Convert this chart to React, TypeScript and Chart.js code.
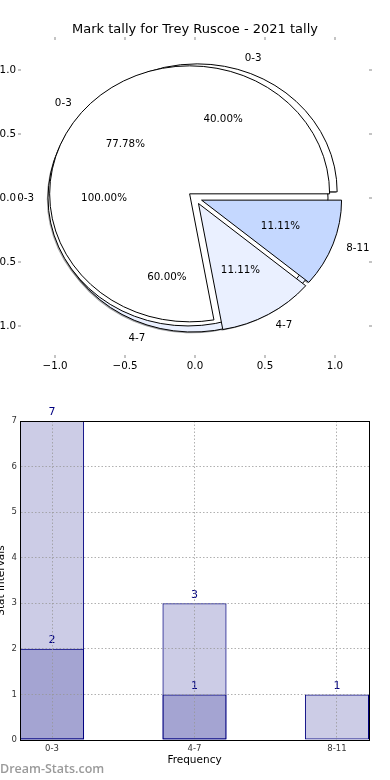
import React, { useEffect, useRef } from 'react';
import { Chart, registerables } from 'chart.js';
Chart.register(...registerables);

const FONT = "'DejaVu Sans'";

const pieTitle = 'Mark tally for Trey Ruscoe - 2021 tally';
const categories = ['0-3', '4-7', '8-11'];
const sliceColors = ['#ffffff', '#eaf0ff', '#c5d8ff'];

// three overlaid pies (drawn in this order: C, A, B)
const pieALabels = ['0-3'];
const pieAValues = [1];
const pieBLabels = ['0-3', '4-7', '8-11'];
const pieBValues = [7, 1, 1];
const pieCLabels = ['0-3', '4-7'];
const pieCValues = [2, 3];
const pieExplode = 0.05;
const pieTicks = [-1, -0.5, 0, 0.5, 1];

// bar chart
const barTotals = [7, 3, 1];
const barSubset = [2, 1, null];
const barYTicks = [0, 1, 2, 3, 4, 5, 6, 7];
const xTitle = 'Frequency';
const yTitle = 'Stat Intervals';
const watermark = 'Dream-Stats.com';

function shadowColor(hex: string) {
  const n = parseInt(hex.slice(1), 16);
  const r = Math.round(((n >> 16) & 255) * 0.3);
  const g = Math.round(((n >> 8) & 255) * 0.3);
  const b = Math.round((n & 255) * 0.3);
  return `rgba(${r},${g},${b},0.5)`;
}

const piePlugin = {
  id: 'overlaidPies',
  afterDatasetsDraw(chart: any) {
    const { ctx } = chart;
    const x = chart.scales.x;
    const y = chart.scales.y;
    const px = (v: number) => x.getPixelForValue(v);
    const py = (v: number) => y.getPixelForValue(v);
    const rx = px(1) - px(0);
    const ry = py(0) - py(1);
    const pies = [
      { labels: pieCLabels, values: pieCValues },
      { labels: pieALabels, values: pieAValues },
      { labels: pieBLabels, values: pieBValues },
    ];
    const wedges: any[] = [];
    pies.forEach((p) => {
      const total = p.values.reduce((a, b) => a + b, 0);
      let start = 0;
      p.values.forEach((v, i) => {
        const frac = v / total;
        const a1 = start * 2 * Math.PI;
        const a2 = (start + frac) * 2 * Math.PI;
        const mid = (a1 + a2) / 2;
        wedges.push({
          a1, a2, mid, frac,
          cx: pieExplode * Math.cos(mid),
          cy: pieExplode * Math.sin(mid),
          label: p.labels[i],
          color: sliceColors[categories.indexOf(p.labels[i])],
        });
        start += frac;
      });
    });
    const path = (w: any, dx: number, dy: number) => {
      const cx = px(w.cx) + dx;
      const cy = py(w.cy) + dy;
      ctx.beginPath();
      if (w.frac > 0.999999) {
        ctx.ellipse(cx, cy, rx, ry, 0, 0, 2 * Math.PI);
      } else {
        ctx.moveTo(cx, cy);
        ctx.ellipse(cx, cy, rx, ry, 0, -w.a1, -w.a2, true);
        ctx.closePath();
      }
    };
    ctx.save();
    wedges.forEach((w) => {
      path(w, -1.2, 1.2);
      ctx.fillStyle = shadowColor(w.color);
      ctx.fill();
    });
    wedges.forEach((w) => {
      path(w, 0, 0);
      ctx.fillStyle = w.color;
      ctx.fill();
      ctx.lineWidth = 1;
      ctx.strokeStyle = '#000';
      ctx.stroke();
    });
    ctx.font = `10.3px ${FONT}`;
    ctx.fillStyle = '#000';
    ctx.textBaseline = 'middle';
    wedges.forEach((w) => {
      const xt = w.cx + 1.1 * Math.cos(w.mid);
      const yt = w.cy + 1.1 * Math.sin(w.mid);
      ctx.textAlign = xt > 0 ? 'left' : 'right';
      ctx.fillText(w.label, px(xt), py(yt));
      const xp = w.cx + 0.6 * Math.cos(w.mid);
      const yp = w.cy + 0.6 * Math.sin(w.mid);
      ctx.textAlign = 'center';
      ctx.fillText((w.frac * 100).toFixed(2) + '%', px(xp), py(yp));
    });
    ctx.restore();
  },
};

const barLabelPlugin = {
  id: 'barLabels',
  afterDatasetsDraw(chart: any) {
    const { ctx } = chart;
    ctx.save();
    ctx.font = `11px ${FONT}`;
    ctx.fillStyle = '#000080';
    ctx.textAlign = 'center';
    ctx.textBaseline = 'bottom';
    chart.data.datasets.forEach((ds: any, di: number) => {
      const meta = chart.getDatasetMeta(di);
      meta.data.forEach((el: any, i: number) => {
        const v = ds.data[i].y;
        if (v == null) return;
        ctx.fillText(String(v), el.x, el.y - 3);
      });
    });
    ctx.restore();
  },
};

const fmtPie = (v: number) => (v < 0 ? '\u2212' : '') + Math.abs(v).toFixed(1);
const setPieTicks = (s: any) => {
  s.ticks = pieTicks.map((v) => ({ value: v }));
};
const pieGrid = {
  drawOnChartArea: false,
  drawTicks: true,
  tickLength: 3,
  color: '#c4c4c4',
  lineWidth: 2,
};
const pieTickFont = { family: FONT, size: 10.3 };

const XMIN = -1.243, XMAX = 1.243, YMIN = -1.227, YMAX = 1.234;

function pieConfig(): any {
  return {
    type: 'scatter',
    data: { datasets: [] },
    plugins: [piePlugin],
    options: {
      responsive: false,
      animation: false,
      layout: { padding: 0 },
      plugins: {
        legend: { display: false },
        tooltip: { enabled: false },
        title: {
          display: true,
          text: pieTitle,
          fullSize: false,
          color: '#000',
          font: { family: FONT, size: 13, weight: 'normal' },
          padding: { top: 22.2, bottom: 0 },
        },
      },
      scales: {
        x: {
          type: 'linear', position: 'bottom', min: XMIN, max: XMAX,
          afterBuildTicks: setPieTicks,
          ticks: { callback: fmtPie, font: pieTickFont, color: '#000', padding: 2, maxRotation: 0, autoSkip: false },
          grid: pieGrid, border: { display: false },
          afterFit: (s: any) => { s.height = 35; },
        },
        x2: {
          type: 'linear', axis: 'x', position: 'top', min: XMIN, max: XMAX,
          afterBuildTicks: setPieTicks,
          ticks: { display: false },
          grid: pieGrid, border: { display: false },
          afterFit: (s: any) => { s.height = 2.2; },
        },
        y: {
          type: 'linear', position: 'left', min: YMIN, max: YMAX,
          afterBuildTicks: setPieTicks,
          ticks: { callback: fmtPie, font: pieTickFont, color: '#000', padding: 2, autoSkip: false },
          grid: pieGrid, border: { display: false },
          afterFit: (s: any) => { s.width = 51; },
        },
        y2: {
          type: 'linear', axis: 'y', position: 'right', min: YMIN, max: YMAX,
          afterBuildTicks: setPieTicks,
          ticks: { display: false },
          grid: pieGrid, border: { display: false },
          afterFit: (s: any) => { s.width = 21; },
        },
      },
    },
  };
}

const barGrid = { color: 'rgba(150,150,150,0.75)', lineWidth: 1, drawTicks: false, z: 1, offset: false };
const barBorder = { display: true, color: '#000', width: 1, dash: [1.5, 2], z: 2 };
const barTickFont = { family: FONT, size: 8.5 };
const BXMIN = -0.225, BXMAX = 2.225;

function barConfig(): any {
  const ds = (vals: (number | null)[]) => ({
    data: vals.map((v, i) => ({ x: i, y: v })),
    backgroundColor: 'rgba(0,0,128,0.2)',
    borderColor: '#000080',
    borderWidth: 1,
    borderSkipped: false,
    grouped: false,
    barPercentage: 0.45,
    categoryPercentage: 1,
  });
  return {
    type: 'bar',
    data: { datasets: [ds(barTotals), ds(barSubset)] },
    plugins: [barLabelPlugin],
    options: {
      responsive: false,
      animation: false,
      layout: { padding: { top: 31, right: 21, left: 0, bottom: 0 } },
      plugins: { legend: { display: false }, tooltip: { enabled: false } },
      scales: {
        x: {
          type: 'linear', position: 'bottom', min: BXMIN, max: BXMAX, offset: false,
          afterBuildTicks: (s: any) => { s.ticks = categories.map((_, i) => ({ value: i })); },
          ticks: { callback: (v: number) => categories[v] ?? '', font: barTickFont, color: '#333', padding: 4, maxRotation: 0, autoSkip: false },
          grid: barGrid, border: barBorder,
          title: { display: true, text: xTitle, color: '#000', font: { family: FONT, size: 10.5 }, padding: { top: 0, bottom: 13.4 } },
          afterFit: (s: any) => { s.height = 40; },
        },
        x2: {
          type: 'linear', axis: 'x', position: 'top', min: BXMIN, max: BXMAX, offset: false,
          ticks: { display: false }, grid: { display: false },
          border: { display: true, color: '#000', width: 1, z: 2 },
          afterFit: (s: any) => { s.height = 0; },
        },
        y: {
          type: 'linear', position: 'left', min: 0, max: 7,
          afterBuildTicks: (s: any) => { s.ticks = barYTicks.map((v) => ({ value: v })); },
          ticks: { font: barTickFont, color: '#333', padding: 3, autoSkip: false },
          grid: barGrid, border: barBorder,
          title: { display: true, text: yTitle, color: '#000', font: { family: FONT, size: 10.5 }, padding: { top: 7.4, bottom: 0 } },
          afterFit: (s: any) => { s.width = 32; },
        },
        y2: {
          type: 'linear', axis: 'y', position: 'right', min: 0, max: 7,
          ticks: { display: false }, grid: { display: false },
          border: { display: true, color: '#000', width: 1, z: 2 },
          afterFit: (s: any) => { s.width = 0; },
        },
      },
    },
  };
}

export default function App() {
  const pieRef = useRef<HTMLCanvasElement>(null);
  const barRef = useRef<HTMLCanvasElement>(null);
  useEffect(() => {
    document.body.style.margin = '0';
    document.body.style.overflow = 'hidden';
    const pie = new Chart(pieRef.current as HTMLCanvasElement, pieConfig());
    const bar = new Chart(barRef.current as HTMLCanvasElement, barConfig());
    return () => {
      pie.destroy();
      bar.destroy();
    };
  }, []);
  return (
    <div style={{ position: 'relative', width: 390, height: 780, overflow: 'hidden', background: '#fff' }}>
      <canvas ref={pieRef} width={420} height={390} style={{ position: 'absolute', left: -30, top: 0, width: 420, height: 390 }} />
      <canvas ref={barRef} width={402} height={390} style={{ position: 'absolute', left: -12, top: 390, width: 402, height: 390 }} />
      <div style={{ position: 'absolute', left: 0, top: 763, fontFamily: "'Open Sans'", fontWeight: 600, fontSize: 12.5, lineHeight: '12px', color: '#9a9a9a', whiteSpace: 'nowrap' }}>
        {watermark}
      </div>
    </div>
  );
}
